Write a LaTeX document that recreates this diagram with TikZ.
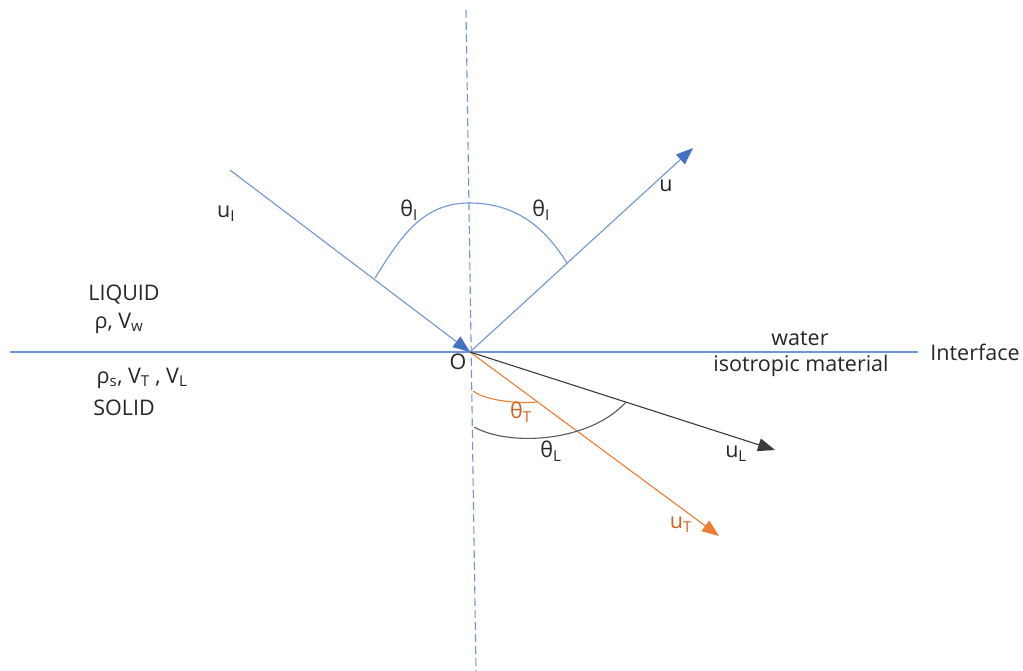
\documentclass[tikz,border=0pt]{standalone}
\usepackage{fontspec}
\setmainfont{Open Sans}
\usetikzlibrary{arrows.meta}
\definecolor{oblue}{HTML}{4472C4}
\definecolor{lblue}{HTML}{6F95D8}
\definecolor{oorange}{HTML}{ED7D31}
\definecolor{torange}{HTML}{D0641C}
\definecolor{dgray}{HTML}{3A3A3A}
\definecolor{tblack}{HTML}{262626}
\begin{document}
\begin{tikzpicture}[x=1pt,y=-1pt,
  lbl/.style={inner sep=0pt,text=tblack,font=\fontsize{21.5}{25}\selectfont},
  olbl/.style={lbl,text=torange},
  bray/.style={draw=lblue,line width=1.1pt},
  tipb/.style={-{Triangle[length=17pt,width=13pt,fill=oblue,color=oblue]}},
  tipo/.style={-{Triangle[length=17pt,width=13pt,fill=oorange,color=oorange]}},
  tipg/.style={-{Triangle[length=17pt,width=13pt,fill=dgray,color=dgray]}}]
\useasboundingbox (0,0) rectangle (1023,671);
% coordinates
\coordinate (O) at (470,352);
\coordinate (nTop) at (466,10);
\coordinate (nBot) at (476,671);
\coordinate (iL) at (10,352);
\coordinate (iR) at (918,352);
\coordinate (inc) at (230,170);
\coordinate (refl) at (693,148);
\coordinate (uT) at (719,536);
\coordinate (uL) at (775,450);
% interface and normal
\draw[draw=lblue,line width=1.1pt] (iL) -- (iR);
\draw[draw=lblue,line width=1.1pt,dash pattern=on 8pt off 4pt] (nTop) -- (nBot);
% rays
\draw[bray,tipb] (inc) -- (O);
\draw[bray,tipb] (O) -- (refl);
\draw[draw=oorange,line width=1.1pt,tipo] (O) -- (uT);
\draw[draw=dgray,line width=1.1pt,tipg] (O) -- (uL);
% arcs
\coordinate (aL) at (375,278);
\coordinate (aT) at (469,203);
\coordinate (aR) at (567,263);
\draw[draw=lblue,line width=1.1pt] (aL) to[out=58,in=180] (aT) to[out=0,in=122] (aR);
\coordinate (tS) at (473,391);
\coordinate (tE) at (537,402);
\draw[draw=oorange,line width=1.1pt] (tS) .. controls (485,400) and (515,404) .. (tE);
\coordinate (lS) at (474,427);
\coordinate (lE) at (626,402);
\draw[draw=dgray!85,line width=1.1pt] (lS) .. controls (510,447) and (590,442) .. (lE);
% labels
\node[lbl] (luI) at (226,214) {u\textsubscript{I}};
\node[lbl] (lu) at (666,186) {u};
\node[lbl] (th1) at (409,210) {θ\textsubscript{I}};
\node[lbl] (th2) at (541,210) {θ\textsubscript{I}};
\node[lbl] (lO) at (458,362) {O};
\node[olbl] (thT) at (521,412) {θ\textsubscript{T}};
\node[lbl] (thL) at (551,451) {θ\textsubscript{L}};
\node[lbl] (luL) at (736,454) {u\textsubscript{L}};
\node[olbl] (luT) at (681,525) {u\textsubscript{T}};
\node[lbl] (water) at (800,339) {water};
\node[lbl] (iso) at (801,366) {isotropic material};
\node[lbl] (intf) at (975,352) {Interface};
\node[lbl] (liq) at (124,295) {LIQUID};
\node[lbl] (rv) at (119,323) {ρ, V\textsubscript{w}};
\node[lbl] (rs) at (142,378) {ρ\textsubscript{s}, V\textsubscript{T} , V\textsubscript{L}};
\node[lbl] (sol) at (124,408) {SOLID};
\end{tikzpicture}
\end{document}
